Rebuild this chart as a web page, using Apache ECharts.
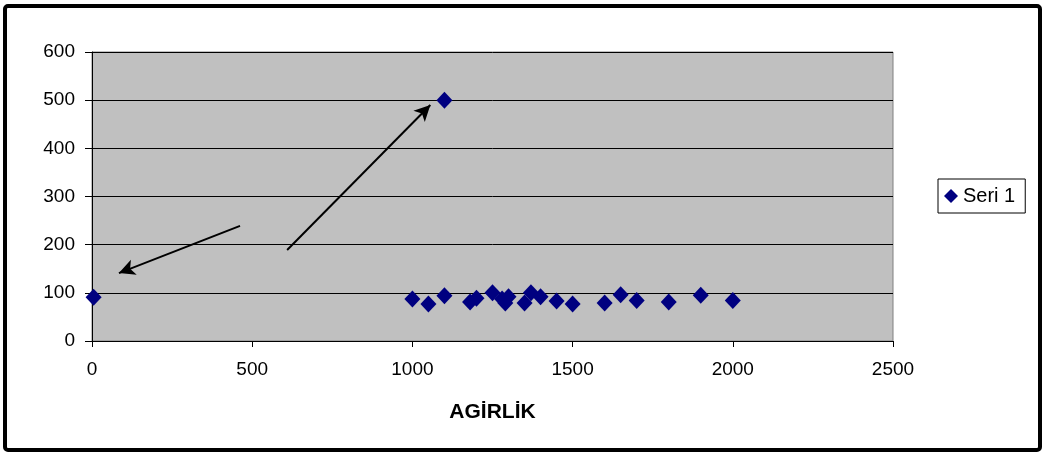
<!DOCTYPE html>
<html>
<head>
<meta charset="utf-8">
<script src="https://cdn.jsdelivr.net/npm/echarts@6/dist/echarts.min.js"></script>
<style>
  html, body { margin: 0; padding: 0; background: #fff; }
  #chart { width: 1045px; height: 454px; }
</style>
</head>
<body>
<div id="chart"></div>
<script>
const seriesName = 'Seri 1';
const xValues = [5, 1000, 1050, 1100, 1100, 1180, 1200, 1250, 1280, 1290, 1300, 1350, 1370, 1400, 1450, 1500, 1600, 1650, 1700, 1800, 1900, 2000];
const yValues = [91, 87, 77, 94, 500, 81, 89, 100, 87, 79, 92, 79, 100, 92, 83, 77, 79, 96, 84, 81, 95, 84];
const xAxisName = 'AGİRLİK';
// annotation arrows: [fromX, fromY, toX, toY] in data units
const arrowA = [462, 239, 84, 141];
const arrowB = [609, 189, 1056, 490];

const points = xValues.map((x, i) => [x, yValues[i]]);
const font = 'Liberation Sans, Arial, sans-serif';

const chart = echarts.init(document.getElementById('chart'));
chart.setOption({
  animation: false,
  backgroundColor: '#fff',
  textStyle: { fontFamily: font },
  graphic: [{
    type: 'rect',
    shape: { x: 5, y: 6, width: 1035, height: 444, r: 3 },
    style: { fill: 'none', stroke: '#000', lineWidth: 4 },
    z: 100
  }],
  grid: {
    left: 92, top: 52, width: 801, height: 289,
    show: true, backgroundColor: '#C0C0C0', borderColor: '#808080', borderWidth: 1
  },
  legend: {
    left: 938, top: 179,
    data: [{ name: seriesName, icon: 'diamond' }],
    itemWidth: 14, itemHeight: 14, itemGap: 4,
    borderColor: '#000', borderWidth: 1, padding: [7, 10, 7, 6],
    textStyle: { fontSize: 20, color: '#000', fontFamily: font }
  },
  xAxis: {
    type: 'value', min: 0, max: 2500, interval: 500,
    name: xAxisName, nameLocation: 'middle', nameGap: 61,
    nameTextStyle: { fontSize: 21, fontWeight: 'bold', color: '#000', fontFamily: font },
    axisLine: { show: true, onZero: false, lineStyle: { color: '#000', width: 1 } },
    axisTick: { show: true, length: 6, lineStyle: { color: '#000' } },
    axisLabel: { fontSize: 19, color: '#000', margin: 19, formatter: v => String(v) },
    splitLine: { show: false }
  },
  yAxis: {
    type: 'value', min: 0, max: 600, interval: 100,
    axisLine: { show: true, lineStyle: { color: '#000', width: 1 } },
    axisTick: { show: true, length: 7, lineStyle: { color: '#000' } },
    axisLabel: { fontSize: 19, color: '#000', margin: 17, formatter: v => String(v) },
    splitLine: { show: true, lineStyle: { color: '#000', width: 1 } }
  },
  series: [{
    name: seriesName,
    type: 'scatter',
    symbol: 'diamond',
    symbolSize: [16, 17],
    itemStyle: { color: '#000080', opacity: 1 },
    data: points,
    markLine: {
      silent: true,
      symbol: ['none', 'arrow'],
      symbolSize: [12, 16],
      label: { show: false },
      lineStyle: { color: '#000', width: 2, type: 'solid', opacity: 1 },
      data: [
        [{ coord: [arrowA[0], arrowA[1]] }, { coord: [arrowA[2], arrowA[3]] }],
        [{ coord: [arrowB[0], arrowB[1]] }, { coord: [arrowB[2], arrowB[3]] }]
      ]
    }
  }]
});
</script>
</body>
</html>
